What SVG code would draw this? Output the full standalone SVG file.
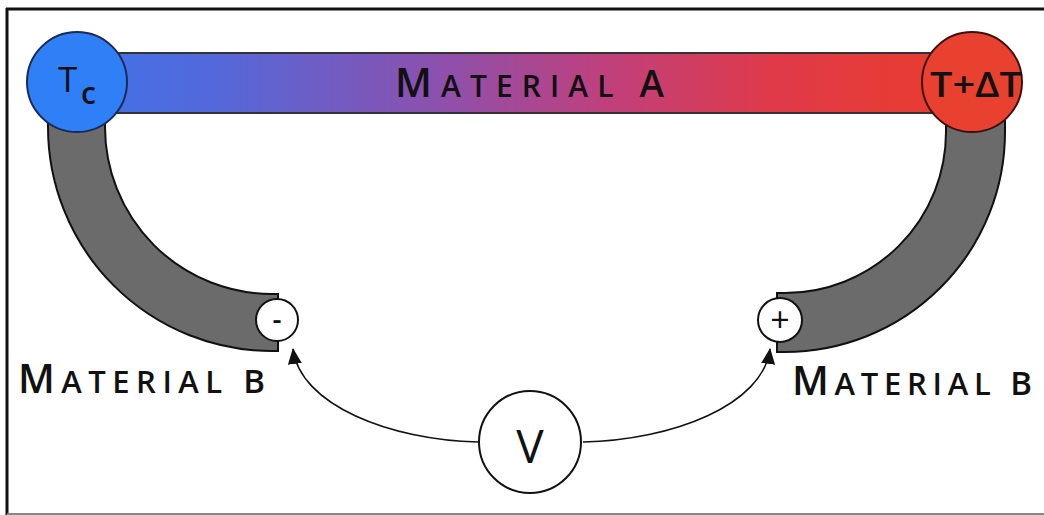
<svg xmlns="http://www.w3.org/2000/svg" width="1044" height="515" viewBox="0 0 1044 515">
<style>
  .lbl { font-family: "Open Sans", "DejaVu Sans", sans-serif; fill: #111; }
  .cap { font-weight: 600; }
  .band { fill: #6b6b6b; stroke: #111; stroke-width: 2; }
  .term { fill: #fff; stroke: #111; stroke-width: 2; }
  .wire { fill: none; stroke: #111; stroke-width: 1.6; }
</style>
<defs>
  <linearGradient id="gradA" gradientUnits="userSpaceOnUse" x1="115" y1="0" x2="935" y2="0">
    <stop offset="0" stop-color="#4670e6"/>
    <stop offset="0.12" stop-color="#5368da"/>
    <stop offset="0.4" stop-color="#8e50ac"/>
    <stop offset="0.6" stop-color="#c0407c"/>
    <stop offset="0.8" stop-color="#e03a4a"/>
    <stop offset="1" stop-color="#e83c30"/>
  </linearGradient>
  <marker id="arrow" markerUnits="userSpaceOnUse" markerWidth="16" markerHeight="14" viewBox="0 0 16 14" refX="15" refY="7" orient="auto">
    <path d="M0,0 L16,7 L0,14 Z" fill="#111"/>
  </marker>
</defs>

<g id="frame">
  <line x1="7" y1="8" x2="7" y2="515" stroke="#111" stroke-width="3"/>
  <line x1="6" y1="9" x2="1044" y2="9" stroke="#111" stroke-width="3"/>
  <line x1="7" y1="514" x2="1044" y2="514" stroke="#888" stroke-width="2"/>
</g>

<g id="material-b-left">
  <path class="band" d="M47,90 L48,127 A224,224 0 0 0 272,351 L278,351 L278,294 L272,294 A167,167 0 0 1 105,127 L105,90 Z"/>
</g>
<g id="material-b-right">
  <path class="band" d="M1005,90 L1005,132 A220,220 0 0 1 785,352 L777,352 L777,293 L785,293 A161,161 0 0 0 946,132 L946,90 Z"/>
</g>

<g id="material-a">
  <rect x="115" y="53" width="820" height="60" fill="url(#gradA)" stroke="#333" stroke-width="2"/>
  <text class="lbl cap" x="395" y="97" textLength="269" lengthAdjust="spacing"><tspan font-size="40">M</tspan><tspan font-size="30">ATERIAL </tspan><tspan font-size="37">A</tspan></text>
</g>

<g id="tc">
  <circle cx="77" cy="82" r="50" fill="#2f7ff6" stroke="#1a2a55" stroke-width="2"/>
  <text class="lbl" x="58" y="92" font-size="35">T</text>
  <text class="lbl cap" x="81" y="104" font-size="30">c</text>
</g>

<g id="th">
  <circle cx="972" cy="82" r="50" fill="#e8412f" stroke="#3a1010" stroke-width="2"/>
  <text class="lbl cap" x="930" y="97" font-size="35" textLength="92" lengthAdjust="spacingAndGlyphs">T+ΔT</text>
</g>

<g id="label-b-left">
  <text class="lbl cap" x="18" y="393" textLength="247" lengthAdjust="spacing"><tspan font-size="40">M</tspan><tspan font-size="31">ATERIAL </tspan><tspan font-size="33">B</tspan></text>
</g>
<g id="label-b-right">
  <text class="lbl cap" x="792" y="395" textLength="240" lengthAdjust="spacing"><tspan font-size="40">M</tspan><tspan font-size="31">ATERIAL </tspan><tspan font-size="33">B</tspan></text>
</g>

<g id="connectors">
  <path class="wire" d="M478,442 C390,440 300,405 293,349" marker-end="url(#arrow)"/>
  <path class="wire" d="M583,442 C673,440 763,405 770,349" marker-end="url(#arrow)"/>
</g>

<g id="minus">
  <circle class="term" cx="277" cy="320" r="21"/>
  <text class="lbl cap" x="277" y="329" font-size="28" text-anchor="middle">-</text>
</g>
<g id="plus">
  <circle class="term" cx="780" cy="320" r="22"/>
  <text class="lbl" x="780" y="332" font-size="34" text-anchor="middle" font-family="DejaVu Sans, sans-serif">+</text>
</g>

<g id="voltmeter">
  <circle cx="530" cy="442" r="51" fill="#fff" stroke="#111" stroke-width="2"/>
  <text class="lbl" x="530" y="463" font-size="46" text-anchor="middle">V</text>
</g>
</svg>
